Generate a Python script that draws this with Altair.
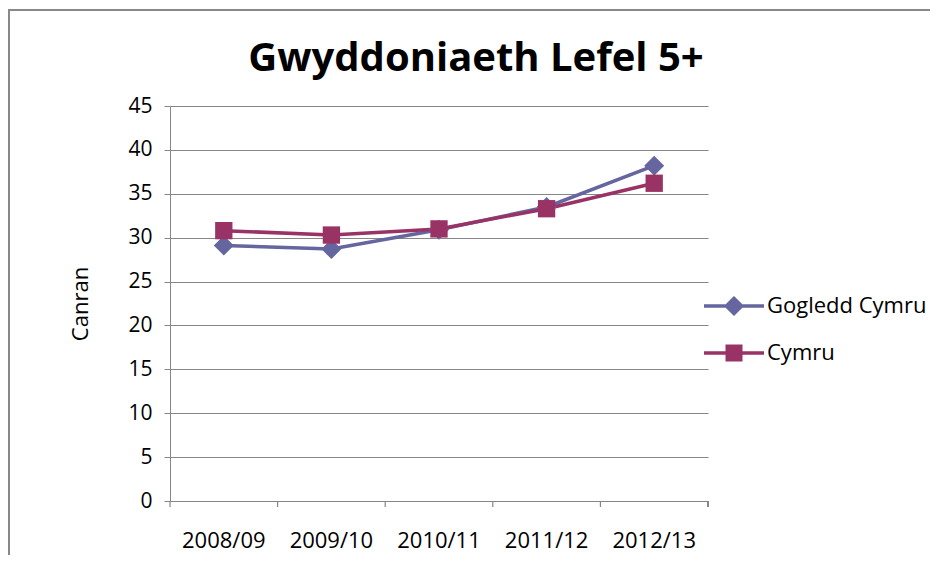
import altair as alt
import pandas as pd

years = ["2008/09", "2009/10", "2010/11", "2011/12", "2012/13"]
series_names = ["Gogledd Cymru", "Cymru"]
gogledd = [29.1, 28.7, 30.9, 33.5, 38.2]
cymru = [30.8, 30.3, 31.0, 33.3, 36.2]
colors = ["#65659F", "#993366"]

rows = []
for y, v in zip(years, gogledd):
    rows.append({"year": y, "series": "Gogledd Cymru", "value": v})
for y, v in zip(years, cymru):
    rows.append({"year": y, "series": "Cymru", "value": v})
df = pd.DataFrame(rows)
legend_df = pd.DataFrame({"year": [years[0]] * 2, "series": series_names, "value": [0, 0]})

FONT = "Open Sans"
W, H = 538, 395

x_enc = alt.X("year:N", sort=years, title=None,
              scale=alt.Scale(paddingInner=0, paddingOuter=0),
              axis=alt.Axis(labelAngle=0, labelFontSize=22, labelFont=FONT, labelColor="#000",
                            labelPadding=29, ticks=False, domainColor="#868686", domainWidth=1.2))
y_enc = alt.Y("value:Q", title="Canran",
              scale=alt.Scale(domain=[0, 45], nice=False),
              axis=alt.Axis(values=list(range(0, 50, 5)), labelFontSize=21, labelFont=FONT,
                            labelColor="#000", labelPadding=12, tickSize=6, tickColor="#868686",
                            domainColor="#868686", gridColor="#868686", gridWidth=1.2,
                            titleFont=FONT, titleFontSize=22, titleFontWeight="normal",
                            titleColor="#000", titleAngle=-90, titleX=-90, titleY=H / 2,
                            titleAlign="center", titleBaseline="middle"))

color_scale = alt.Scale(domain=series_names, range=colors)
DIAMOND_PATH = "M-3,-0.17H-0.83L0,-1L0.83,-0.17H3V0.17H0.83L0,1L-0.83,0.17H-3Z"
SQUARE_PATH = "M-3,-0.17H-0.85V-0.85H0.85V-0.17H3V0.17H0.85V0.85H-0.85V0.17H-3Z"

leg_props = dict(title=None, orient="none", legendX=553, legendY=189,
                 labelFont=FONT, labelFontSize=22, labelColor="#000", labelLimit=400,
                 symbolSize=400, labelOffset=22, rowPadding=25,
                 symbolOpacity=1, symbolStrokeWidth=0)

base = alt.Chart(df)
lines = base.mark_line(strokeWidth=3.5).encode(
    x=x_enc, y=y_enc, color=alt.Color("series:N", scale=color_scale, legend=None))
points = base.mark_point(filled=True, opacity=1).encode(
    x=x_enc, y=y_enc,
    color=alt.Color("series:N", scale=color_scale, legend=None),
    shape=alt.Shape("series:N", scale=alt.Scale(domain=series_names, range=["diamond", "square"]),
                    legend=None),
    size=alt.Size("series:N", scale=alt.Scale(domain=series_names, range=[400, 300]), legend=None),
)
legend_layer = alt.Chart(legend_df).mark_point(filled=True, opacity=0).encode(
    x=x_enc, y=y_enc,
    color=alt.Color("series:N", scale=color_scale, sort=series_names, legend=alt.Legend(**leg_props)),
    shape=alt.Shape("series:N", sort=series_names,
                    scale=alt.Scale(domain=series_names, range=[DIAMOND_PATH, SQUARE_PATH]),
                    legend=alt.Legend(**leg_props)),
)

tick_df = pd.DataFrame({"year": years})
ticks = alt.Chart(tick_df).mark_rule(color="#868686", strokeWidth=1.2).encode(
    x=alt.X("year:N", sort=years, bandPosition=0),
    y=alt.value(H), y2=alt.value(H + 6))
last_tick = alt.Chart(tick_df).mark_rule(color="#868686", strokeWidth=1.2).encode(
    x=alt.value(W), y=alt.value(H), y2=alt.value(H + 6))

border = alt.Chart(tick_df).mark_rect(fill=None, stroke="#888888", strokeWidth=1.5).encode(
    x=alt.value(-161), x2=alt.value(800), y=alt.value(-96), y2=alt.value(500))

chart = alt.layer(border, lines, points, legend_layer, ticks, last_tick).resolve_scale(
    shape="independent", size="independent"
).resolve_legend(color="independent", shape="independent").properties(
    width=W, height=H,
    title=alt.Title("Gwyddoniaeth Lefel 5+", font=FONT, fontSize=40, fontWeight="bold",
                    color="#000", anchor="middle", dx=37, offset=14, baseline="alphabetic", dy=116),
    padding={"left": 162, "top": 98, "right": 222, "bottom": 54},
    autosize=alt.AutoSizeParams(type="none"),
).configure_view(stroke=None)

chart.save("out.html", embed_options={"renderer": "svg", "actions": False})
